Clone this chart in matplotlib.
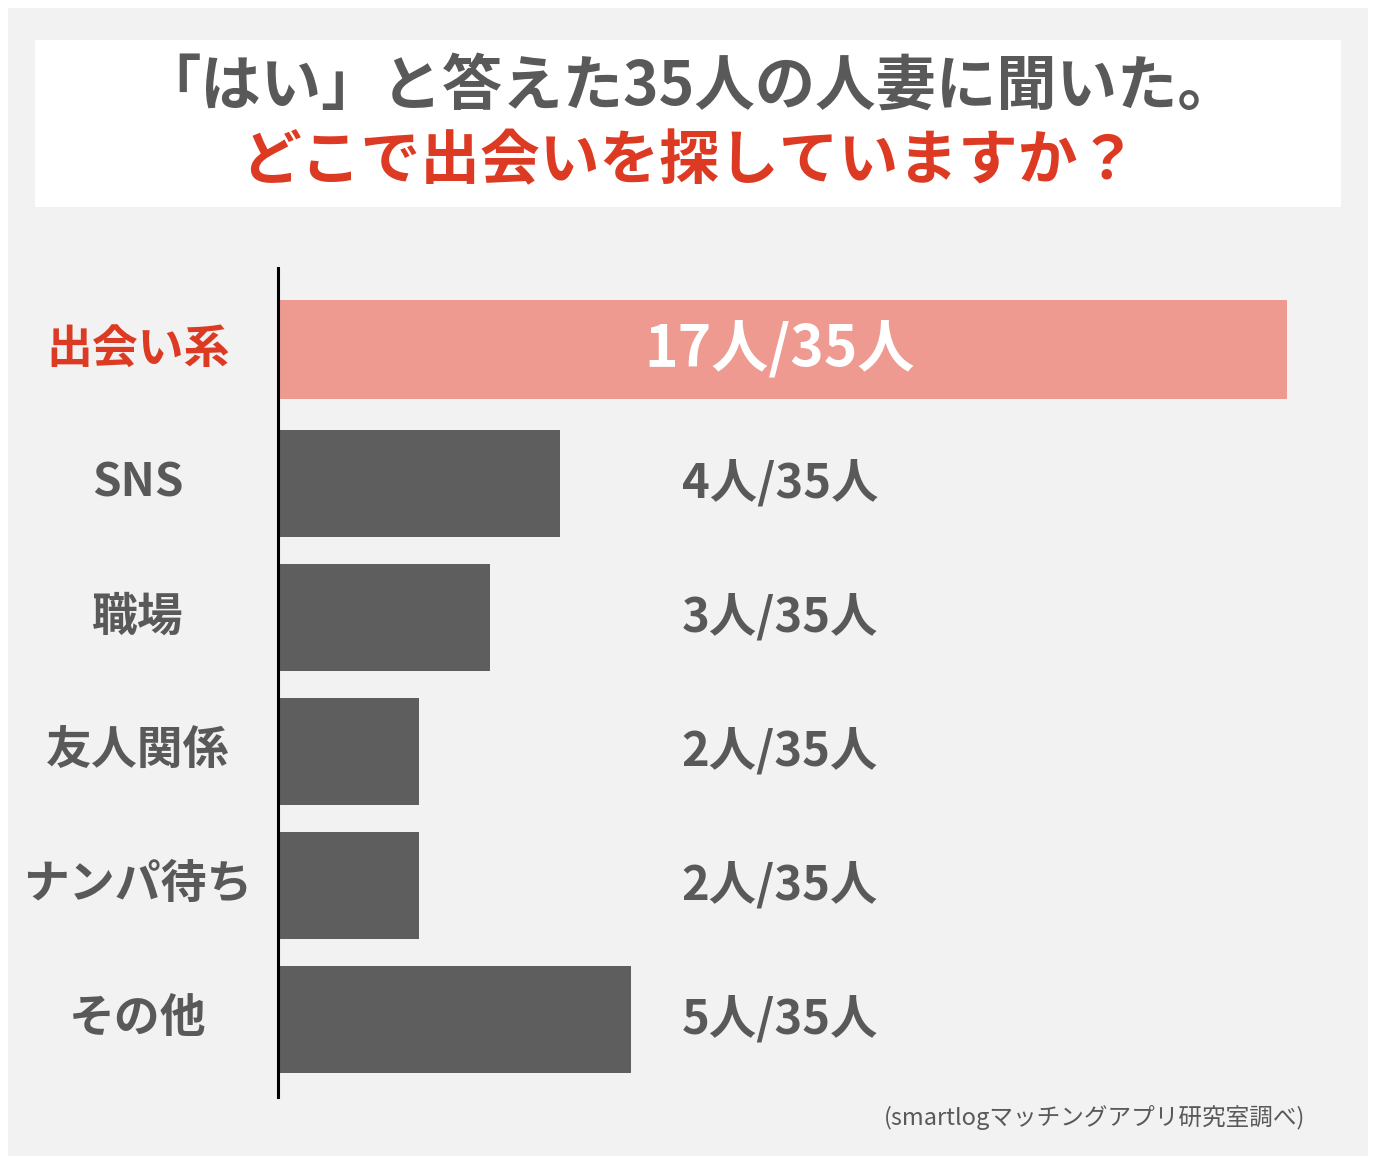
import matplotlib.pyplot as plt
from matplotlib.patches import Rectangle
from matplotlib.transforms import blended_transform_factory

plt.rcParams['font.family'] = ['Noto Sans CJK JP', 'DejaVu Sans']

#===================== data ===================================================
categories = ['出会い系', 'SNS', '職場', '友人関係', 'ナンパ待ち', 'その他']
counts = [17, 4, 3, 2, 2, 5]
total = 35
title1 = '「はい」と答えた35人の人妻に聞いた。'
title2 = 'どこで出会いを探していますか？'
source = '(smartlogマッチングアプリ研究室調べ)'

gray_txt = '#595959'
red_txt = '#dc3a22'
bar_gray = '#5e5e5e'
bar_pink = '#ef9a90'
bg = '#f2f2f2'

#===================== figure / frame =========================================
W, H = 1378, 1166
fig = plt.figure(figsize=(W / 100, H / 100), dpi=100)
fig.patch.set_facecolor('white')

def fx(px):
    return px / W

def fy(py):
    return 1 - py / H

fig.patches.append(Rectangle((fx(8), fy(1156)), fx(1368) - fx(8), fy(8) - fy(1156),
                             transform=fig.transFigure, facecolor=bg, edgecolor='none', zorder=-2))
fig.patches.append(Rectangle((fx(35), fy(207)), fx(1341) - fx(35), fy(40) - fy(207),
                             transform=fig.transFigure, facecolor='white', edgecolor='none', zorder=-1))

fig.text(0.5, fy(87), title1, ha='center', va='center', fontsize=43.5,
         fontweight='bold', color=gray_txt)
fig.text(0.5, fy(162), title2, ha='center', va='center', fontsize=43,
         fontweight='bold', color=red_txt)

#===================== bars ===================================================
ax = fig.add_axes([fx(278), fy(1097), fx(1287) - fx(278), fy(268) - fy(1097)])
ax.set_zorder(2)
ax.set_facecolor('none')
ypos = list(range(len(categories)))
colors = [bar_pink] + [bar_gray] * (len(categories) - 1)
heights = [0.74] + [0.80] * (len(categories) - 1)
ax.barh(ypos, counts, height=heights, color=colors, left=0)

ax.set_xlim(0, 14.3)   # top bar runs off past the right edge in the original
ax.set_ylim(5.58, -0.61)
for s in ['top', 'right', 'bottom']:
    ax.spines[s].set_visible(False)
ax.spines['left'].set_linewidth(2.2)
ax.spines['left'].set_color('black')
ax.set_xticks([])
ax.set_yticks([])

lab_tr = blended_transform_factory(fig.transFigure, ax.transData)
val_tr = blended_transform_factory(ax.transAxes, ax.transData)
for i, (cat, n) in enumerate(zip(categories, counts)):
    ax.text(fx(138), i, cat, transform=lab_tr, ha='center', va='center', clip_on=False,
            fontsize=33, fontweight='bold', color=red_txt if i == 0 else gray_txt)
    if i == 0:
        ax.text(0.4975, i, f'{n}人/{total}人', transform=val_tr, ha='center', va='center',
                fontsize=41, fontweight='bold', color='white')
    else:
        ax.text(0.4975, i, f'{n}人/{total}人', transform=val_tr, ha='center', va='center',
                fontsize=34, fontweight='bold', color=gray_txt)

fig.text(fx(1305), fy(1118), source, ha='right', va='center', fontsize=17, color=gray_txt)

plt.savefig('out.png', dpi=100, facecolor=fig.get_facecolor())
